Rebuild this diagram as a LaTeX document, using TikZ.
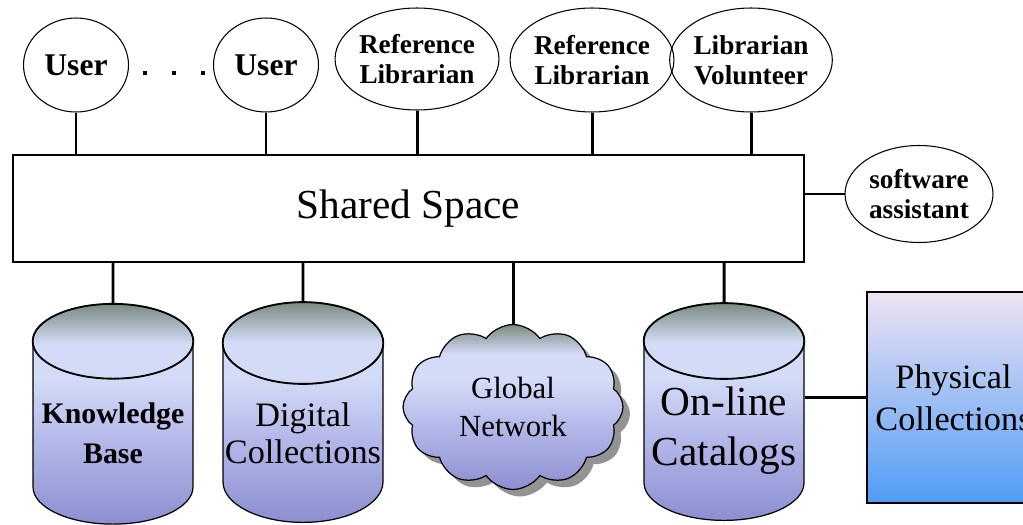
\documentclass[tikz,border=0pt]{standalone}
\usepackage{fontspec}
\setmainfont{Liberation Serif}
\usetikzlibrary{shapes.geometric,shapes.symbols,shadows,calc}

\definecolor{dbtop}{HTML}{7B8B80}
\definecolor{dblight}{HTML}{D3DBF7}
\definecolor{dbmid}{HTML}{B6BAEA}
\definecolor{dbbot}{HTML}{8C8ED0}
\definecolor{phystop}{HTML}{EEE2F2}
\definecolor{physmid}{HTML}{A6C6F4}
\definecolor{physbot}{HTML}{4F9CF5}

\pgfdeclareverticalshading{dbshade}{100bp}{color(0bp)=(dbbot); color(25bp)=(dbbot); color(45bp)=(dbmid); color(58bp)=(dblight); color(66bp)=(dblight); color(75bp)=(dbtop); color(100bp)=(dbtop)}

\tikzset{
	actor/.style={draw, ellipse, line width=0.6pt, inner sep=0pt, align=center, font=\fontsize{15.5}{17}\selectfont\bfseries},
	link/.style={line width=1.7pt},
	store/.style={draw, cylinder, shape border rotate=90, aspect=0.52, line width=0.7pt, shading=dbshade, inner sep=0pt, align=center, minimum width=3.2cm, minimum height=4.4cm}
}

\begin{document}
\begin{tikzpicture}[x=0.02cm, y=-0.02cm]
	
	\useasboundingbox (0,0) rectangle (1023,524);
	
	%Personen oben
	\node[actor, minimum width=2.1cm, minimum height=1.88cm, font=\fontsize{18}{20}\selectfont\bfseries] (user1) at (76,65) {User};
	\node[actor, minimum width=2.1cm, minimum height=1.88cm, font=\fontsize{18}{20}\selectfont\bfseries] (user2) at (266,65) {User};
	\node[actor, minimum width=2.96cm, minimum height=2.04cm] (ref1) at (417,59) {Reference\\Librarian};
	\node[actor, minimum width=2.96cm, minimum height=2.08cm] (ref2) at (592,60) {Reference\\Librarian};
	\node[actor, minimum width=2.96cm, minimum height=2.08cm] (vol) at (751,60) {Librarian\\Volunteer};
	\foreach \dx in {145,174,203}
		\fill (\dx-2,71) rectangle ++(4,4);
	
	%Shared Space
	\node[draw, line width=0.9pt, minimum width=15.82cm, minimum height=2.14cm, font=\fontsize{23.5}{28}\selectfont] (space) at (408.5,208.5) {Shared Space};
	\node[actor, minimum width=2.96cm, minimum height=1.94cm] (soft) at (919,194) {software\\assistant};
	
	%Datenbestaende
	\node[store, font=\fontsize{17}{23}\selectfont\bfseries] (kb) at (113,433) {Knowledge\\Base};
	\node[store, font=\fontsize{19.5}{21}\selectfont] (dc) at (303,433) {Digital\\Collections};
	\node[cloud, draw, cloud puffs=12, cloud puff arc=110, cloud ignores aspect, line width=0.7pt, minimum width=4.4cm, minimum height=3.3cm, inner sep=0pt, align=center, shading=dbshade, drop shadow={fill=gray!85, shadow xshift=0.14cm, shadow yshift=-0.14cm, opacity=1}, font=\fontsize{17.5}{21.5}\selectfont] (net) at (513,407) {Global\\Network};
	\node[store, minimum height=4.34cm, font=\fontsize{23.5}{28.5}\selectfont] (oc) at (724,431) {On-line\\Catalogs};
	\node[draw, line width=0.8pt, top color=phystop, middle color=physmid, bottom color=physbot, minimum width=3.46cm, minimum height=4.22cm, align=center, font=\fontsize{19.5}{24}\selectfont] (phys) at (953.5,397.5) {Physical\\Collections};
	
	%Deckel der Zylinder
	\foreach \s in {kb,dc,oc}
		\draw[line width=0.7pt] let \p1=($(\s.before top)!0.5!(\s.after top)$), \p2=(\s.top), \p3=(\s.east) in (\p1) ellipse[x radius={\x3-\x1}, y radius={\y2-\y1}];
	
	%Verbindungen
	\foreach \s in {user1,user2,ref1,ref2,vol}
		\draw[link] (\s) -- (\s |- space.north);
	\foreach \s in {kb,dc,net,oc}
		\draw[link] (\s) -- (\s |- space.south);
	\draw[link] (soft.west -| space.east) -- (soft.west);
	\draw[link] (phys.west -| oc.east) -- (phys.west);
	
\end{tikzpicture}
\end{document}
